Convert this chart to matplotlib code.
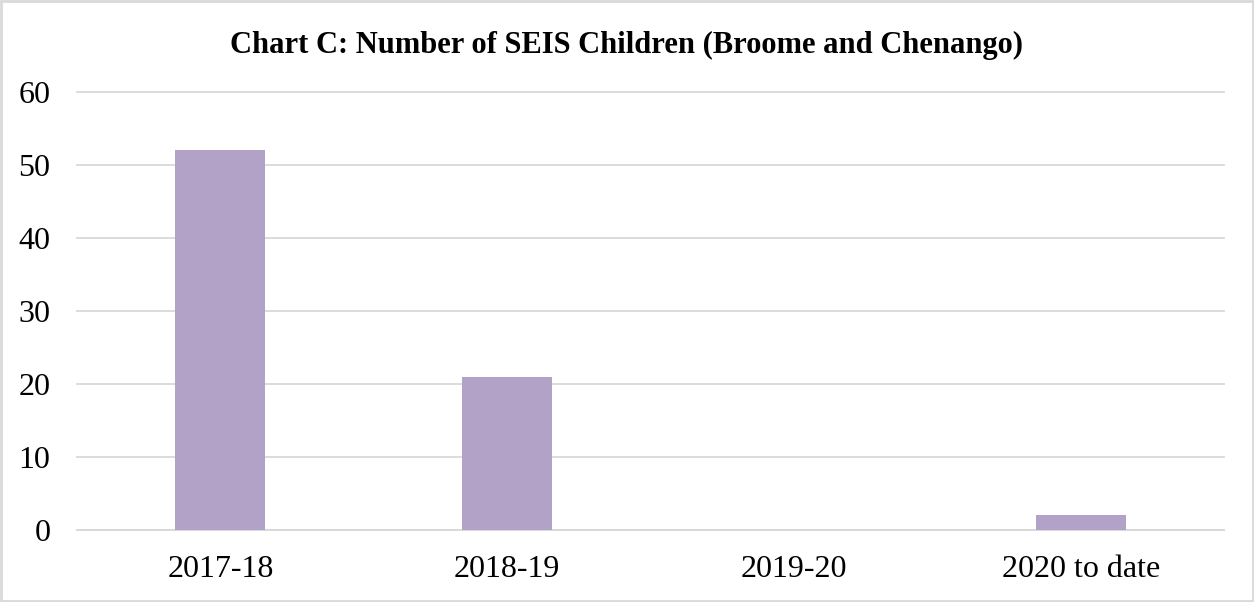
import matplotlib
matplotlib.use("Agg")
import matplotlib.pyplot as plt
from matplotlib.patches import Rectangle

categories = ["2017-18", "2018-19", "2019-20", "2020 to date"]
children = [52, 21, 0, 2]
y_ticks = [0, 10, 20, 30, 40, 50, 60]

plt.rcParams["font.family"] = ["Liberation Serif", "DejaVu Serif"]

fig = plt.figure(figsize=(12.54, 6.02), dpi=100)
ax = fig.add_axes([77 / 1254, 72 / 602, (1224 - 77) / 1254, (530 - 92) / 602])

x = range(len(categories))
ax.bar(x, children, width=0.314, color="#B3A2C7", zorder=3)

ax.set_xlim(-0.5, len(categories) - 0.5)
ax.set_ylim(0, 60)
ax.set_yticks(y_ticks)
ax.set_xticks(list(x))
ax.set_xticklabels(categories)
ax.tick_params(axis="both", length=0, labelsize=23, colors="black")
ax.tick_params(axis="y", pad=19)
ax.tick_params(axis="x", pad=18)

ax.grid(axis="y", color="#D9D9D9", linewidth=1.3, zorder=0)
for gl in ax.get_ygridlines():
    gl.set_clip_on(False)
for side in ["top", "right", "left"]:
    ax.spines[side].set_visible(False)
ax.spines["bottom"].set_color("#D9D9D9")
ax.spines["bottom"].set_linewidth(1.3)

fig.text(0.5, 1 - 45 / 602, "Chart C: Number of SEIS Children (Broome and Chenango)",
         ha="center", va="center", fontsize=22, fontweight="bold")

# light outer frame around the whole chart
fig.patches.append(Rectangle((0.001, 0.002), 0.998, 0.996, transform=fig.transFigure,
                             fill=False, edgecolor="#D9D9D9", linewidth=2))

fig.savefig("out.png", dpi=100)
